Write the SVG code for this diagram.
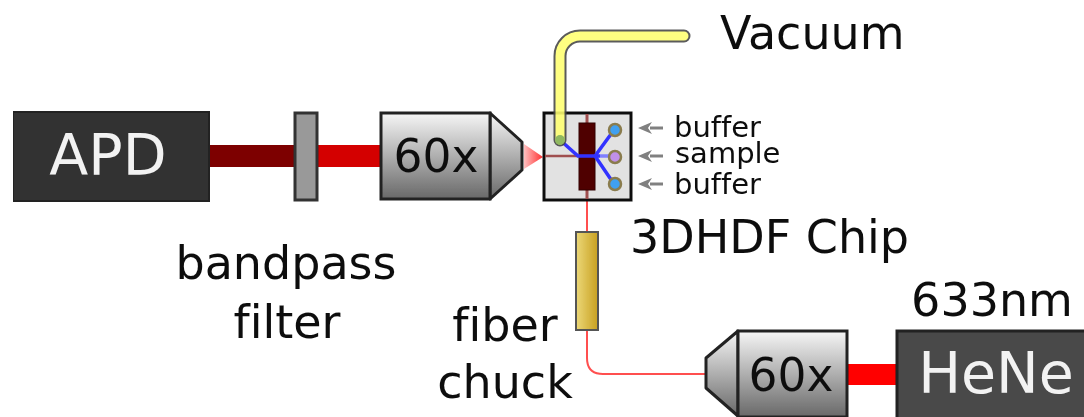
<svg xmlns="http://www.w3.org/2000/svg" width="1084" height="417" viewBox="0 0 1084 417">
<style>
text{font-family:"DejaVu Sans",sans-serif;fill:#111;font-variant-ligatures:none}
.lbl{font-size:46px}
.small{font-size:29px}
.white{fill:#f2f2f2;font-size:57px}
.obj{font-size:45.5px}
.port{stroke:#8a7c4e;stroke-width:2.5}
.gline{stroke:#808080;stroke-width:3;fill:none}
.ch{stroke:#3333ff;stroke-width:3.5;fill:none}
</style>
<defs>
<linearGradient id="body" x1="0" y1="0" x2="0" y2="1"><stop offset="0" stop-color="#f6f6f6"/><stop offset="1" stop-color="#686868"/></linearGradient>
<linearGradient id="brass" x1="0" y1="0" x2="1" y2="0"><stop offset="0" stop-color="#ecd878"/><stop offset="1" stop-color="#c8a020"/></linearGradient>
<linearGradient id="cone" x1="0" y1="0" x2="1" y2="0"><stop offset="0" stop-color="#ffc0c0"/><stop offset="1" stop-color="#ff3030"/></linearGradient>
<marker id="ah" markerWidth="15" markerHeight="14" refX="2" refY="7" orient="auto" markerUnits="userSpaceOnUse"><path d="M14 7L0 1L4 7L0 13Z" fill="#808080"/></marker>
<filter id="soft" x="0" y="0" width="100%" height="100%"><feGaussianBlur stdDeviation="0.6"/></filter>
</defs>
<g filter="url(#soft)">
<g id="connectors">
<rect x="209" y="145" width="86" height="22" fill="#7d0000"/>
<rect x="317" y="145" width="65" height="22" fill="#d40000"/>
<rect x="847" y="364" width="50" height="21" fill="#ff0000"/>
<path d="M587 198V232M587 330V358Q587 374 603 374H706" fill="none" stroke="#ff5050" stroke-width="2"/>
</g>
<g id="apd"><rect x="13" y="112" width="196" height="89" fill="#333" stroke="#222" stroke-width="2"/><text x="108" y="175" text-anchor="middle" class="white">APD</text></g>
<g id="filter"><rect x="295" y="113" width="22" height="87" fill="#999" stroke="#333" stroke-width="3"/><text x="286" y="279" text-anchor="middle" class="lbl">bandpass</text><text x="287" y="338" text-anchor="middle" class="lbl">filter</text></g>
<g id="objective-top"><path d="M490 113L522 142V170L490 199Z" fill="url(#body)" stroke="#222" stroke-width="3" stroke-linejoin="round"/><rect x="381" y="113" width="109" height="86" fill="url(#body)" stroke="#222" stroke-width="3"/><text x="436" y="172" text-anchor="middle" class="obj">60x</text></g>
<path id="beam-cone" d="M524 144L543 157L524 169Z" fill="url(#cone)"/>
<g id="chip">
<rect x="544" y="113" width="87" height="87" fill="#e2e2e2" stroke="#111" stroke-width="3"/>
<path d="M545 156H578" stroke="#a05050" stroke-width="2.5"/>
<path d="M587 114V124M587 190V199" stroke="#a05050" stroke-width="3"/>
<rect x="579" y="123" width="16" height="67" fill="#500000" stroke="#300000" stroke-width="1"/>
<path class="ch" d="M560 140L578 156H600M595 156L614 130M595 156L614 184"/>
<path d="M600 156H614" stroke="#7f7fff" stroke-width="3.5"/>
<circle class="port" cx="615" cy="130" r="6" fill="#3fa0f0"/>
<circle class="port" cx="615" cy="157" r="6" fill="#c090e8"/>
<circle class="port" cx="615" cy="184" r="6" fill="#3fa0f0"/>
<text x="630" y="253" class="lbl">3DHDF Chip</text>
</g>
<g id="vacuum-tube">
<g opacity=".88">
<path d="M560 140V56A20 20 0 0 1 580 36H684" fill="none" stroke="#444" stroke-width="13" stroke-linecap="round"/>
<path d="M560 140V56A20 20 0 0 1 580 36H684" fill="none" stroke="#ffff70" stroke-width="9" stroke-linecap="round"/>
</g>
<circle cx="560" cy="140" r="5" fill="#90b860"/>
<text x="720" y="49" class="lbl">Vacuum</text>
</g>
<g id="inputs">
<path class="gline" d="M663 128H650" marker-end="url(#ah)"/>
<path class="gline" d="M663 156H650" marker-end="url(#ah)"/>
<path class="gline" d="M663 184H650" marker-end="url(#ah)"/>
<text x="674" y="137" class="small">buffer</text>
<text x="675" y="163" class="small">sample</text>
<text x="674" y="194" class="small">buffer</text>
</g>
<g id="fiber-chuck"><rect x="576" y="232" width="22" height="98" fill="url(#brass)" stroke="#555" stroke-width="2"/><text x="505" y="341" text-anchor="middle" class="lbl">fiber</text><text x="505" y="398" text-anchor="middle" class="lbl">chuck</text></g>
<g id="objective-bottom"><path d="M738 331L706 358V388L738 416Z" fill="url(#body)" stroke="#222" stroke-width="3" stroke-linejoin="round"/><rect x="738" y="331" width="109" height="86" fill="url(#body)" stroke="#222" stroke-width="3"/><text x="791" y="391" text-anchor="middle" class="obj">60x</text></g>
<g id="hene"><rect x="897" y="331" width="190" height="88" fill="#4a4a4a" stroke="#222" stroke-width="3"/><text x="996" y="393" text-anchor="middle" class="white">HeNe</text><text x="992" y="316" text-anchor="middle" class="lbl">633nm</text></g>
</g>
</svg>
